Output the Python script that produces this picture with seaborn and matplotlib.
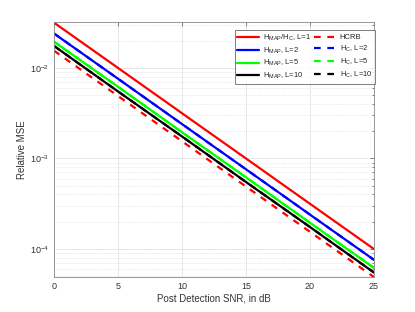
import numpy as np
import pandas as pd
import seaborn as sns
import matplotlib.pyplot as plt
from matplotlib.ticker import LogLocator, NullFormatter

# SNR en dB
snr_db = [0, 5, 10, 15, 20, 25]

# MSE relativo
mse_map_l1 = [3.16e-2, 1.0e-2, 3.16e-3, 1.0e-3, 3.16e-4, 1.0e-4]
mse_map_l2 = [2.4e-2, 7.6e-3, 2.4e-3, 7.6e-4, 2.4e-4, 7.6e-5]
mse_map_l5 = [1.95e-2, 6.2e-3, 1.95e-3, 6.2e-4, 1.95e-4, 6.2e-5]
mse_map_l10 = [1.75e-2, 5.5e-3, 1.75e-3, 5.5e-4, 1.75e-4, 5.5e-5]
mse_hcrb = [1.55e-2, 4.9e-3, 1.55e-3, 4.9e-4, 1.55e-4, 4.9e-5]
mse_c_l2 = [2.4e-2, 7.6e-3, 2.4e-3, 7.6e-4, 2.4e-4, 7.6e-5]
mse_c_l5 = [1.95e-2, 6.2e-3, 1.95e-3, 6.2e-4, 1.95e-4, 6.2e-5]
mse_c_l10 = [1.75e-2, 5.5e-3, 1.75e-3, 5.5e-4, 1.75e-4, 5.5e-5]

series = [
    (r'H$_{MAP}$/H$_{C}$, L=1', mse_map_l1, 'red', '-'),
    (r'H$_{MAP}$, L=2', mse_map_l2, 'blue', '-'),
    (r'H$_{MAP}$, L=5', mse_map_l5, (0, 1, 0), '-'),
    (r'H$_{MAP}$, L=10', mse_map_l10, 'black', '-'),
    ('HCRB', mse_hcrb, 'red', (0, (3, 3))),
    (r'H$_{C}$, L=2', mse_c_l2, 'blue', (0, (3, 3))),
    (r'H$_{C}$, L=5', mse_c_l5, (0, 1, 0), (0, (3, 3))),
    (r'H$_{C}$, L=10', mse_c_l10, 'black', (0, (3, 3))),
]

sns.set_style("white")
plt.rcParams['font.family'] = ['Liberation Sans', 'DejaVu Sans']
plt.rcParams['mathtext.default'] = 'regular'

fig = plt.figure(figsize=(4.15, 3.12), dpi=100)
ax = fig.add_axes([0.130, 0.112, 0.771, 0.817])

for label, vals, color, ls in series:
    df = pd.DataFrame({'snr': snr_db, 'mse': vals})
    z = 2 if ls == '-' else 1
    sns.lineplot(data=df, x='snr', y='mse', ax=ax, color=color, linestyle=ls,
                 linewidth=1.6, label=label, zorder=z)

ax.set_yscale('log')
ax.set_xlim(0, 25)
ax.set_ylim(4.9e-5, 3.2e-2)
ax.set_xticks([0, 5, 10, 15, 20, 25])
ax.yaxis.set_major_locator(LogLocator(base=10, numticks=10))
ax.yaxis.set_minor_locator(LogLocator(base=10, subs=np.arange(2, 10), numticks=20))
ax.yaxis.set_minor_formatter(NullFormatter())

ax.grid(True, which='major', color='#e3e3e3', linewidth=0.6, linestyle='-')
ax.grid(True, which='minor', axis='y', color='#d8d8d8', linewidth=0.5, linestyle=':')
ax.tick_params(which='both', direction='in', top=True, right=True, labelsize=6.5,
               color='#555555', labelcolor='#333333')
ax.tick_params(which='major', length=3, width=0.5)
ax.tick_params(which='minor', length=1.5, width=0.5)
for s in ax.spines.values():
    s.set_color('#888888')
    s.set_linewidth(0.6)

ax.set_xlabel('Post Detection SNR, in dB', fontsize=7, color='#333333', labelpad=2)
ax.set_ylabel('Relative MSE', fontsize=7, color='#333333', labelpad=2)

leg = ax.legend(loc='upper right', bbox_to_anchor=(1.003, 0.97), ncol=2, fontsize=5.5,
                frameon=True, fancybox=False, handlelength=2.8, columnspacing=0.5,
                labelspacing=0.35, borderpad=0.35, handletextpad=0.5, borderaxespad=0)
leg.get_frame().set_edgecolor('#444444')
leg.get_frame().set_linewidth(0.6)

fig.savefig('out.png', dpi=100)
